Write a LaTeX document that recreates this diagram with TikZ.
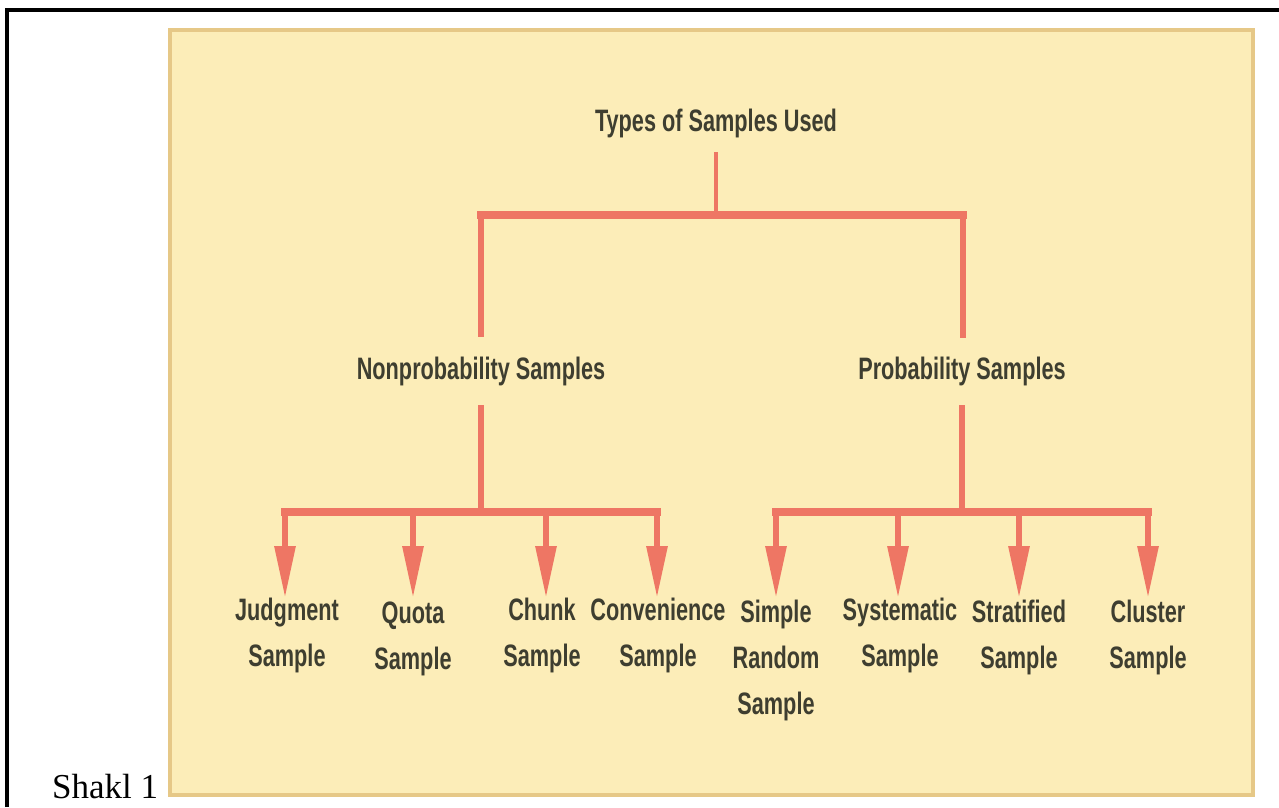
\documentclass[tikz,border=0pt]{standalone}
\usepackage{fontspec}
\setmainfont{Liberation Serif}
\newfontfamily\lblfont{Liberation Sans}[FakeStretch=0.7]
\usetikzlibrary{arrows.meta}
\definecolor{boxfill}{RGB}{252,237,184}
\definecolor{boxedge}{RGB}{230,200,135}
\definecolor{redln}{RGB}{238,118,100}
\definecolor{txt}{RGB}{62,62,48}
\tikzset{
  lbl/.style={font=\lblfont\bfseries\fontsize{31}{46}\selectfont, text=txt, inner sep=0pt, align=center},
  leaf/.style={lbl, anchor=north},
  stemln/.style={draw=redln, line width=6pt},
  barln/.style={draw=redln, line width=8pt, line cap=rect},
  arrln/.style={draw=redln, line width=6pt, -{Triangle[length=52pt,width=20pt]}},
}
\begin{document}
\begin{tikzpicture}[x=1pt,y=-1pt]
\useasboundingbox (0,0) rectangle (1279,807);
% outer table borders
\draw[black, line width=3.5pt] (7,807) -- (7,10) -- (1279,10);
% caption
\node[font=\fontsize{35}{40}\selectfont, anchor=base west, inner sep=0pt] (cap) at (52,798) {Shakl 1};
% yellow panel
\draw[boxedge, fill=boxfill, line width=3.5pt] (170,30) rectangle (1253,795);
% labels
\node[lbl] (root) at (716,123) {Types of Samples Used};
\node[lbl] (np) at (481,371) {Nonprobability Samples};
\node[lbl] (pr) at (962,371) {Probability Samples};
\node[leaf] (judg) at (287,598) {Judgment\\Sample};
\node[leaf] (quota) at (413,602) {Quota\\Sample};
\node[leaf] (chunk) at (542,598) {Chunk\\Sample};
\node[leaf] (conv) at (658,598) {Convenience\\Sample};
\node[leaf] (simple) at (776,600) {Simple\\Random\\Sample};
\node[leaf] (syst) at (900,598) {Systematic\\Sample};
\node[leaf] (strat) at (1019,600) {Stratified\\Sample};
\node[leaf] (clus) at (1148,600) {Cluster\\Sample};
% junction coordinates
\coordinate (rtop) at (716,152);
\coordinate (rj) at (716,215);
\coordinate (lj) at (481,215);
\coordinate (rgj) at (963,215);
\coordinate (npin) at (481,337);
\coordinate (prin) at (963,338);
\coordinate (npout) at (481,405);
\coordinate (prout) at (962,405);
\coordinate (npj) at (481,512);
\coordinate (prj) at (962,512);
\coordinate (a1) at (285,512);
\coordinate (a2) at (413,512);
\coordinate (a3) at (546,512);
\coordinate (a4) at (657,512);
\coordinate (b1) at (776,512);
\coordinate (b2) at (898,512);
\coordinate (b3) at (1019,512);
\coordinate (b4) at (1148,512);
% top level
\draw[stemln, line width=4.5pt] (rtop) -- (rj);
\draw[barln] (lj) -- (rgj);
\draw[stemln] (lj) -- (npin);
\draw[stemln] (rgj) -- (prin);
% second level
\draw[stemln] (npout) -- (npj);
\draw[stemln] (prout) -- (prj);
\draw[barln] (a1) -- (a4);
\draw[barln] (b1) -- (b4);
% arrows
\draw[arrln] (a1) -- (a1 |- judg.north);
\draw[arrln] (a2) -- (a2 |- judg.north);
\draw[arrln] (a3) -- (a3 |- judg.north);
\draw[arrln] (a4) -- (a4 |- judg.north);
\draw[arrln] (b1) -- (b1 |- judg.north);
\draw[arrln] (b2) -- (b2 |- judg.north);
\draw[arrln] (b3) -- (b3 |- judg.north);
\draw[arrln] (b4) -- (b4 |- judg.north);
\end{tikzpicture}
\end{document}
